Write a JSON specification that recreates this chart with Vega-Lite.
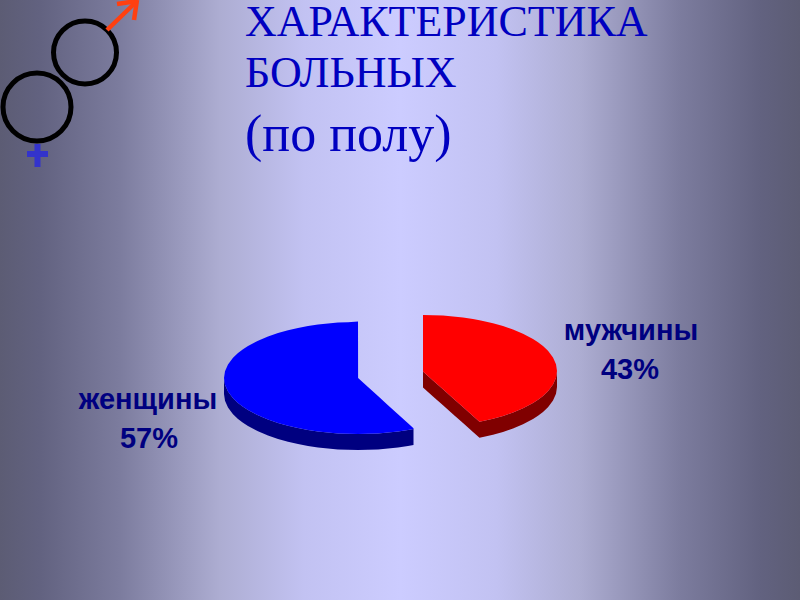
{"$schema":"https://vega.github.io/schema/vega-lite/v6.json","autosize":{"type":"none"},"width":800,"height":600,"padding":0,"background":"#ccccff","config":{"view":{"stroke":null}},
"datasets":{"slices":[
{"s":"женщины","x":224,"top":378,"bot":378,"side":394},
{"s":"женщины","x":225,"top":371.2,"bot":384.8,"side":400.8},
{"s":"женщины","x":228,"top":364.4,"bot":391.6,"side":407.6},
{"s":"женщины","x":233,"top":357.8,"bot":398.2,"side":414.2},
{"s":"женщины","x":238,"top":353.1,"bot":402.9,"side":418.9},
{"s":"женщины","x":243,"top":349.3,"bot":406.7,"side":422.7},
{"s":"женщины","x":248,"top":346,"bot":410,"side":426},
{"s":"женщины","x":258,"top":340.7,"bot":415.3,"side":431.3},
{"s":"женщины","x":268,"top":336.5,"bot":419.5,"side":435.5},
{"s":"женщины","x":278,"top":333.1,"bot":422.9,"side":438.9},
{"s":"женщины","x":288,"top":330.2,"bot":425.8,"side":441.8},
{"s":"женщины","x":298,"top":327.9,"bot":428.1,"side":444.1},
{"s":"женщины","x":308,"top":326,"bot":430,"side":446},
{"s":"женщины","x":318,"top":324.6,"bot":431.4,"side":447.4},
{"s":"женщины","x":328,"top":323.4,"bot":432.6,"side":448.6},
{"s":"женщины","x":338,"top":322.6,"bot":433.4,"side":449.4},
{"s":"женщины","x":348,"top":322.2,"bot":433.8,"side":449.8},
{"s":"женщины","x":358,"top":321.5,"bot":434,"side":450},
{"s":"женщины","x":358.1,"top":378,"bot":434,"side":450},
{"s":"женщины","x":368,"top":387,"bot":433.8,"side":449.8},
{"s":"женщины","x":378,"top":396.1,"bot":433.4,"side":449.4},
{"s":"женщины","x":388,"top":405.2,"bot":432.6,"side":448.6},
{"s":"женщины","x":398,"top":414.2,"bot":431.4,"side":447.4},
{"s":"женщины","x":408,"top":423.3,"bot":430,"side":446},
{"s":"женщины","x":413.5,"top":428.3,"bot":429,"side":445},
{"s":"мужчины","x":423,"top":315,"bot":371.5,"side":387.5},
{"s":"мужчины","x":433,"top":315.2,"bot":380.4,"side":396.4},
{"s":"мужчины","x":443,"top":315.6,"bot":389.3,"side":405.3},
{"s":"мужчины","x":453,"top":316.4,"bot":398.2,"side":414.2},
{"s":"мужчины","x":463,"top":317.6,"bot":407.1,"side":423.1},
{"s":"мужчины","x":473,"top":319,"bot":416,"side":432},
{"s":"мужчины","x":479.5,"top":320.2,"bot":421.8,"side":437.8},
{"s":"мужчины","x":483,"top":320.9,"bot":421.1,"side":437.1},
{"s":"мужчины","x":493,"top":323.2,"bot":418.8,"side":434.8},
{"s":"мужчины","x":503,"top":326.1,"bot":415.9,"side":431.9},
{"s":"мужчины","x":513,"top":329.5,"bot":412.5,"side":428.5},
{"s":"мужчины","x":523,"top":333.7,"bot":408.3,"side":424.3},
{"s":"мужчины","x":533,"top":339,"bot":403,"side":419},
{"s":"мужчины","x":538,"top":342.3,"bot":399.7,"side":415.7},
{"s":"мужчины","x":543,"top":346.1,"bot":395.9,"side":411.9},
{"s":"мужчины","x":548,"top":350.8,"bot":391.2,"side":407.2},
{"s":"мужчины","x":553,"top":357.4,"bot":384.6,"side":400.6},
{"s":"мужчины","x":556,"top":364.2,"bot":377.8,"side":393.8},
{"s":"мужчины","x":557,"top":371,"bot":371,"side":387}
]},
"layer":[
{"data":{"values":[{"x":0,"x2":800,"y":0,"y2":600}]},
 "mark":{"type":"rect","color":{"gradient":"linear","x1":0,"y1":0,"x2":1,"y2":0,"stops":[{"offset":0,"color":"#5c5c74"},{"offset":0.05,"color":"#626280"},{"offset":0.15,"color":"#7c7c9e"},{"offset":0.275,"color":"#adadd2"},{"offset":0.38,"color":"#c2c2f2"},{"offset":0.5,"color":"#ccccff"},{"offset":0.62,"color":"#c2c2f2"},{"offset":0.725,"color":"#adadd2"},{"offset":0.85,"color":"#7c7c9e"},{"offset":0.95,"color":"#626280"},{"offset":1,"color":"#5c5c74"}]}},
 "encoding":{"x":{"field":"x","type":"quantitative","scale":{"domain":[0,800]},"axis":null},"x2":{"field":"x2"},"y":{"field":"y","type":"quantitative","scale":{"domain":[600,0]},"axis":null},"y2":{"field":"y2"}}},
{"data":{"name":"slices"},"mark":{"type":"area","interpolate":"linear"},
 "encoding":{"x":{"field":"x","type":"quantitative","scale":{"domain":[0,800]},"axis":null},"y":{"field":"bot","type":"quantitative","scale":{"domain":[600,0]},"axis":null},"y2":{"field":"side"},
 "color":{"field":"s","type":"nominal","legend":null,"scale":{"domain":["женщины","мужчины"],"range":["#000080","#800000"]}}}},
{"data":{"name":"slices"},"mark":{"type":"area","interpolate":"linear"},
 "encoding":{"x":{"field":"x","type":"quantitative","scale":{"domain":[0,800]},"axis":null},"y":{"field":"top","type":"quantitative","scale":{"domain":[600,0]},"axis":null},"y2":{"field":"bot"},
 "fill":{"field":"s","type":"nominal","legend":null,"scale":{"domain":["женщины","мужчины"],"range":["#0000ff","#ff0000"]}}}},
{"data":{"values":[{"x":37,"y":107}]},
 "mark":{"type":"point","shape":"circle","filled":false,"stroke":"#000000","strokeWidth":5,"opacity":1,"size":4624},
 "encoding":{"x":{"field":"x","type":"quantitative","scale":{"domain":[0,800]},"axis":null},"y":{"field":"y","type":"quantitative","scale":{"domain":[600,0]},"axis":null}}},
{"data":{"values":[{"x":85,"y":52.5}]},
 "mark":{"type":"point","shape":"circle","filled":false,"stroke":"#000000","strokeWidth":5,"opacity":1,"size":3969},
 "encoding":{"x":{"field":"x","type":"quantitative","scale":{"domain":[0,800]},"axis":null},"y":{"field":"y","type":"quantitative","scale":{"domain":[600,0]},"axis":null}}},
{"data":{"values":[{"x":107,"y":30,"x2":136,"y2":2},{"x":117,"y":4,"x2":137,"y2":1},{"x":137,"y":0,"x2":134,"y2":20}]},
 "mark":{"type":"rule","color":"#ff4010","strokeWidth":4.5},
 "encoding":{"x":{"field":"x","type":"quantitative","scale":{"domain":[0,800]},"axis":null},"y":{"field":"y","type":"quantitative","scale":{"domain":[600,0]},"axis":null},"x2":{"field":"x2"},"y2":{"field":"y2"}}},
{"data":{"values":[{"x":37.5,"y":144,"x2":37.5,"y2":167},{"x":27,"y":154,"x2":48,"y2":154}]},
 "mark":{"type":"rule","color":"#3333cc","strokeWidth":6},
 "encoding":{"x":{"field":"x","type":"quantitative","scale":{"domain":[0,800]},"axis":null},"y":{"field":"y","type":"quantitative","scale":{"domain":[600,0]},"axis":null},"x2":{"field":"x2"},"y2":{"field":"y2"}}},
{"data":{"values":[{"t":"ХАРАКТЕРИСТИКА","x":245,"y":36},{"t":"БОЛЬНЫХ","x":245,"y":87}]},
 "mark":{"type":"text","align":"left","baseline":"alphabetic","font":"Liberation Serif","color":"#0000c0","fontSize":44},
 "encoding":{"x":{"field":"x","type":"quantitative","scale":{"domain":[0,800]},"axis":null},"y":{"field":"y","type":"quantitative","scale":{"domain":[600,0]},"axis":null},"text":{"field":"t"}}},
{"data":{"values":[{"t":"(по полу)","x":245,"y":151}]},
 "mark":{"type":"text","align":"left","baseline":"alphabetic","font":"Liberation Serif","color":"#0000c0","fontSize":52},
 "encoding":{"x":{"field":"x","type":"quantitative","scale":{"domain":[0,800]},"axis":null},"y":{"field":"y","type":"quantitative","scale":{"domain":[600,0]},"axis":null},"text":{"field":"t"}}},
{"data":{"values":[{"t":"мужчины","x":631,"y":340},{"t":"43%","x":630,"y":379},{"t":"женщины","x":148,"y":409},{"t":"57%","x":149,"y":448}]},
 "mark":{"type":"text","align":"center","baseline":"alphabetic","font":"Liberation Sans","fontWeight":"bold","fontSize":29,"color":"#000080"},
 "encoding":{"x":{"field":"x","type":"quantitative","scale":{"domain":[0,800]},"axis":null},"y":{"field":"y","type":"quantitative","scale":{"domain":[600,0]},"axis":null},"text":{"field":"t"}}}
]}
